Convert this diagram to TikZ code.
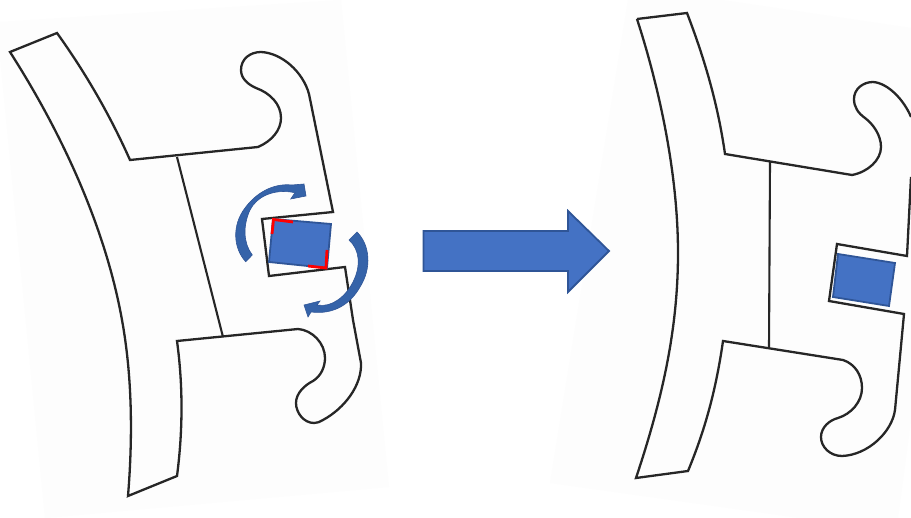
\documentclass[tikz,border=0pt]{standalone}
\definecolor{paper}{HTML}{FDFDFD}
\definecolor{ink}{HTML}{262626}
\definecolor{bluefill}{HTML}{4472C4}
\definecolor{blueedge}{HTML}{2F5597}
\definecolor{bendfill}{HTML}{3563A9}
\tikzset{
  sheet/.style={fill=paper,draw=none},
  outline/.style={draw=ink,line width=2.3pt,line join=miter},
  thinline/.style={draw=ink,line width=2.1pt},
  blueshape/.style={fill=bluefill,draw=blueedge,line width=1.8pt,line join=miter},
  bendarrow/.style={fill=bendfill,draw=blueedge,line width=.6pt,line join=miter},
  redmark/.style={draw=red,line width=2.8pt}
}
\begin{document}
\begin{tikzpicture}[x=1pt,y=-1pt]
\useasboundingbox (0,0) rectangle (911,518);
\fill[white] (0,0) rectangle (911,518);
% paper sheets
\path[sheet] (0,22) -- (341,0) -- (389,487) -- (45,518) -- (0,57) -- cycle;
\path[sheet] (628,0) -- (722,0) -- (911,28) -- (911,420) -- (898,518) -- (800,518) -- (550,483) -- (581,291) -- cycle;
% left part
\draw[outline] (10,52) -- (57,33)
  .. controls (85,72) and (110,115) .. (130,160)
  -- (258,147)
  .. controls (272,141) and (281,130) .. (281,118)
  .. controls (281,104) and (270,93) .. (256,88)
  .. controls (247,84) and (241,78) .. (241,70)
  .. controls (241,59) and (250,52) .. (261,52)
  .. controls (282,53) and (303,72) .. (309,94)
  -- (333,212) -- (262,219) -- (269,276) -- (345,267) -- (353,320) -- (361,363)
  .. controls (362,385) and (345,408) .. (323,420)
  .. controls (320,422) and (317,423) .. (314,423)
  .. controls (304,423) and (296,413) .. (296,403)
  .. controls (296,393) and (305,385) .. (313,381)
  .. controls (321,376) and (325,367) .. (325,358)
  .. controls (325,343) and (312,330) .. (298,329)
  -- (177,341)
  .. controls (183,385) and (183,430) .. (177,476)
  -- (128,496)
  .. controls (133,435) and (132,375) .. (122,320)
  .. controls (105,225) and (60,130) .. (10,52)
  -- cycle;
\draw[thinline] (177,157) -- (223,337);
% left block
\draw[blueshape] (273,219) -- (331,224) -- (327,268) -- (269,262) -- cycle;
\draw[redmark] (293,222) -- (273.5,219.5) -- (272,234);
\draw[redmark] (327,250) -- (326,268) -- (308,266);
% bending arrows
\draw[bendarrow] (245.7,261.7) .. controls (233,248) and (232,225) .. (245,208)
  .. controls (256,193) and (273,183) .. (292,185) -- (304,184) -- (306,196) -- (290.7,199) -- (295,192.7)
  .. controls (272,188) and (256,198) .. (250,210)
  .. controls (243,225) and (243,243) .. (252.3,255) -- cycle;
\draw[bendarrow] (349,240) -- (357,232) .. controls (370,245) and (372,268) .. (360,287)
  .. controls (351,303) and (335,315) .. (311,312) -- (308,317) -- (304,305) -- (320,301) -- (317,305)
  .. controls (332,308) and (346,296) .. (353,282)
  .. controls (361,266) and (360,250) .. (349,240) -- cycle;
% main arrow
\draw[blueshape] (423.5,231) -- (568,231) -- (568,211) -- (609,251) -- (568,292) -- (568,271) -- (423.5,271) -- cycle;
% right part
\draw[outline] (637,19) -- (687,13)
  .. controls (705,60) and (718,105) .. (725,154)
  -- (852,175)
  .. controls (868,172) and (881,160) .. (881,147)
  .. controls (881,135) and (873,124) .. (865,118)
  .. controls (858,113) and (854,107) .. (854,99)
  .. controls (854,89) and (863,82) .. (873,82)
  .. controls (888,83) and (904,100) .. (911,117);
\draw[outline] (911,177) -- (907,256) -- (837,244) -- (829,301) -- (904,314) -- (895,410)
  .. controls (892,432) and (868,455) .. (842,456)
  .. controls (830,456) and (821,447) .. (821,437)
  .. controls (821,427) and (830,420) .. (838,418)
  .. controls (851,414) and (862,402) .. (862,388)
  .. controls (862,375) and (855,364) .. (843,360)
  -- (723,341)
  .. controls (716,390) and (705,430) .. (688,471)
  -- (636,478)
  .. controls (662,400) and (678,330) .. (678,253)
  .. controls (678,175) and (660,90) .. (637,19);
\draw[thinline] (770,162) -- (769,348);
% right block
\draw[blueshape] (838,254) -- (895,263) -- (889,306) -- (833,297) -- cycle;
\end{tikzpicture}
\end{document}
